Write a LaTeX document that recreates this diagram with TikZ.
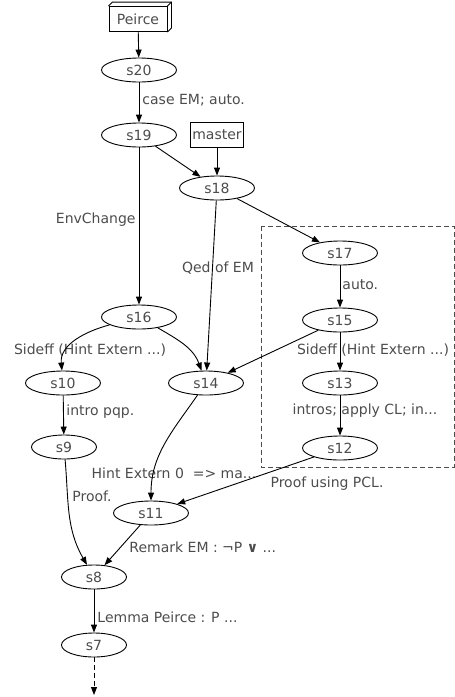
\documentclass[tikz,border=0pt]{standalone}
\usepackage{fontspec}
\setmainfont{DejaVu Sans}
\usetikzlibrary{arrows.meta, shapes.geometric}

\begin{document}
\begin{tikzpicture}[x=1pt, y=1pt, >={Triangle[length=8pt,width=6pt]}, line width=0.9pt,
    every node/.style={font=\fontsize{14}{16}\selectfont, text=black!70},
    state/.style={draw=black, ellipse, minimum width=75pt, minimum height=24pt, inner sep=0pt},
    short/.style={state, minimum width=65pt},
    box/.style={draw=black, rectangle, minimum height=25pt, inner sep=2pt},
    lbl/.style={inner sep=0pt},
    group/.style={draw=black!70, dash pattern=on 5pt off 3pt}]
        \useasboundingbox (0,0) rectangle (455,-697);
        % sources
        \node[box, minimum width=58pt, inner sep=0pt] (Peirce) at (138,-19) {Peirce};
        \draw (Peirce.north west) -- ++(4,4) -| ([shift={(4,4)}]Peirce.south east) -- (Peirce.south east);
        \draw (Peirce.north east) -- ++(4,4);
        \node[box] (master) at (217,-135) {master};
        % states
        \node[state] (s20) at (139,-70) {s20};
        \node[state] (s19) at (139,-135) {s19};
        \node[state] (s18) at (217,-188) {s18};
        \node[state] (s17) at (340,-253) {s17};
        \node[state] (s16) at (139,-317) {s16};
        \node[state] (s15) at (340,-320) {s15};
        \node[state] (s14) at (206,-383) {s14};
        \node[state] (s13) at (340,-383) {s13};
        \node[state] (s10) at (63,-383) {s10};
        \node[short] (s9) at (64,-447) {s9};
        \node[state] (s12) at (340,-448) {s12};
        \node[state] (s11) at (151,-513) {s11};
        \node[short] (s8) at (94,-577) {s8};
        \node[short] (s7) at (94,-645) {s7};
        \coordinate (more) at (94,-695);
        \draw[group] (261,-226) rectangle (454,-467);
        % tactic labels
        \node[lbl, anchor=west] (l20) at (142,-100) {case EM; auto.};
        \node[lbl, anchor=east] (l19) at (136,-220) {EnvChange};
        \node[lbl] (l18) at (218,-268) {Qed of EM};
        \node[lbl, anchor=west] (l17) at (342,-285) {auto.};
        \node[lbl] (l16) at (90,-350) {Sideff (Hint Extern ...)};
        \node[lbl] (l15) at (373,-350) {Sideff (Hint Extern ...)};
        \node[lbl] (l13) at (365,-411) {intros; apply CL; in...};
        \node[lbl, anchor=west] (l10) at (66,-412) {intro pqp.};
        \node[lbl] (l14) at (174,-473) {Hint Extern 0\ \ => ma...};
        \node[lbl] (l12) at (327,-484) {Proof using PCL.};
        \node[lbl, anchor=west] (l9) at (72,-496) {Proof.};
        \node[lbl, anchor=west] (l11) at (129,-547) {Remark EM : ¬P {\bfseries ∨} ...};
        \node[lbl, anchor=west] (l8) at (97,-617) {Lemma Peirce : P ...};
        % steps
        \draw[->] (Peirce) -- (s20);
        \draw[->] (s20) -- (s19);
        \draw[->] (s19) -- (s18);
        \draw[->] (master) -- (s18);
        \draw[->] (s19) -- (s16);
        \draw[->] (s18) -- (s14);
        \draw[->] (s18) -- (s17);
        \draw[->] (s17) -- (s15);
        \draw[->] (s16) to[out=195, in=95] (s10);
        \draw[->] (s16) to[out=-30, in=110] (s14);
        \draw[->] (s15) -- (s14);
        \draw[->] (s15) -- (s13);
        \draw[->] (s13) -- (s12);
        \draw[->] (s10) -- (s9);
        \draw[->] (s14) to[out=235, in=90] (s11);
        \draw[->] (s12) -- (s11);
        \draw[->] (s9) to[out=-85, in=120] (s8);
        \draw[->] (s11) -- (s8);
        \draw[->] (s8) -- (s7);
        \draw[->, dash pattern=on 5pt off 3pt] (s7) -- (more);
    \end{tikzpicture}
\end{document}
